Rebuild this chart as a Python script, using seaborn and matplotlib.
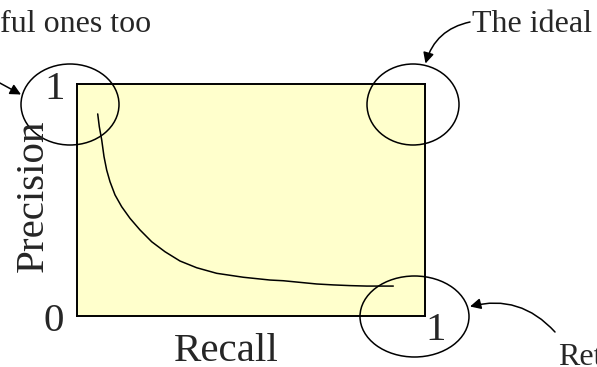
import matplotlib
matplotlib.use("Agg")
import matplotlib.pyplot as plt
import matplotlib.transforms as mtransforms
from matplotlib.patches import Ellipse, FancyArrowPatch
import seaborn as sns
import pandas as pd

# ---- data ----
recall = [0.0595, 0.0641, 0.0710, 0.0776, 0.0853, 0.0948, 0.1092, 0.1284,
          0.1523, 0.1810, 0.2147, 0.2529, 0.2960, 0.3440, 0.4014, 0.4779,
          0.5546, 0.5928, 0.6408, 0.6888, 0.7365, 0.7845, 0.8325, 0.9089]
precision = [0.871, 0.816, 0.759, 0.687, 0.629, 0.579, 0.522, 0.471,
             0.421, 0.371, 0.320, 0.277, 0.237, 0.208, 0.184, 0.167,
             0.155, 0.152, 0.145, 0.138, 0.134, 0.131, 0.129, 0.129]
x_label = "Recall"
y_label = "Precision"
tick_zero = "0"
tick_one = "1"
note_left = "ful ones too"
note_ideal = "The ideal"
note_right = "Ret"

W, H = 597, 367
sns.set_theme(style="white")
plt.rcParams["font.family"] = ["Liberation Serif", "DejaVu Serif"]

fig = plt.figure(figsize=(W / 100, H / 100), dpi=100)
ax = fig.add_axes([77 / W, 1 - 316 / H, 348 / W, 232 / H])
ax.set_facecolor("#FFFFCC")

df = pd.DataFrame({"recall": recall, "precision": precision})
sns.lineplot(data=df, x="recall", y="precision", sort=False, estimator=None,
             color="black", linewidth=1.1, ax=ax)
ax.set_xlim(0, 1)
ax.set_ylim(0, 1)
ax.set_xticks([])
ax.set_yticks([])
ax.set_xlabel("")
ax.set_ylabel("")
for s in ax.spines.values():
    s.set_visible(True)
    s.set_color("black")
    s.set_linewidth(1.4)

# pixel transform (origin top-left)
px = mtransforms.Affine2D().scale(1 / W, -1 / H).translate(0, 1) + fig.transFigure

big = 29.5
small = 23
fig.text(55, 99, tick_one, transform=px, fontsize=big, ha="center", va="baseline")
fig.text(54, 331, tick_zero, transform=px, fontsize=big, ha="center", va="baseline")
fig.text(436, 340, tick_one, transform=px, fontsize=big, ha="center", va="baseline")
fig.text(226, 361, x_label, transform=px, fontsize=big, ha="center", va="baseline")
fig.text(43, 196, y_label, transform=px, fontsize=big, ha="center", va="baseline",
         rotation=90, rotation_mode="anchor")

fig.text(0, 31.7, note_left, transform=px, fontsize=small, ha="left", va="baseline")
fig.text(472, 31.7, note_ideal, transform=px, fontsize=small, ha="left", va="baseline")
fig.text(558, 365, note_right, transform=px, fontsize=small, ha="left", va="baseline")

# ellipses
for (cx, cy, w, h) in [(70, 104.5, 98, 81), (413, 104.5, 92, 81), (414.5, 316.5, 109, 81)]:
    e = Ellipse((cx, cy), w, h, transform=px, fill=False, edgecolor="black", linewidth=1.1)
    fig.add_artist(e)

# arrows
arrows = [((-2, 82), (21, 94.5), 0.0),
          ((470, 22), (425.5, 63.5), 0.3),
          ((555, 332), (470, 306.5), 0.3)]
for (a, b, rad) in arrows:
    arr = FancyArrowPatch(a, b, transform=px, arrowstyle="-|>", mutation_scale=16,
                          connectionstyle=f"arc3,rad={rad}", color="black",
                          linewidth=1.1, shrinkA=0, shrinkB=0)
    fig.add_artist(arr)

fig.savefig("out.png", dpi=100, facecolor="white")
